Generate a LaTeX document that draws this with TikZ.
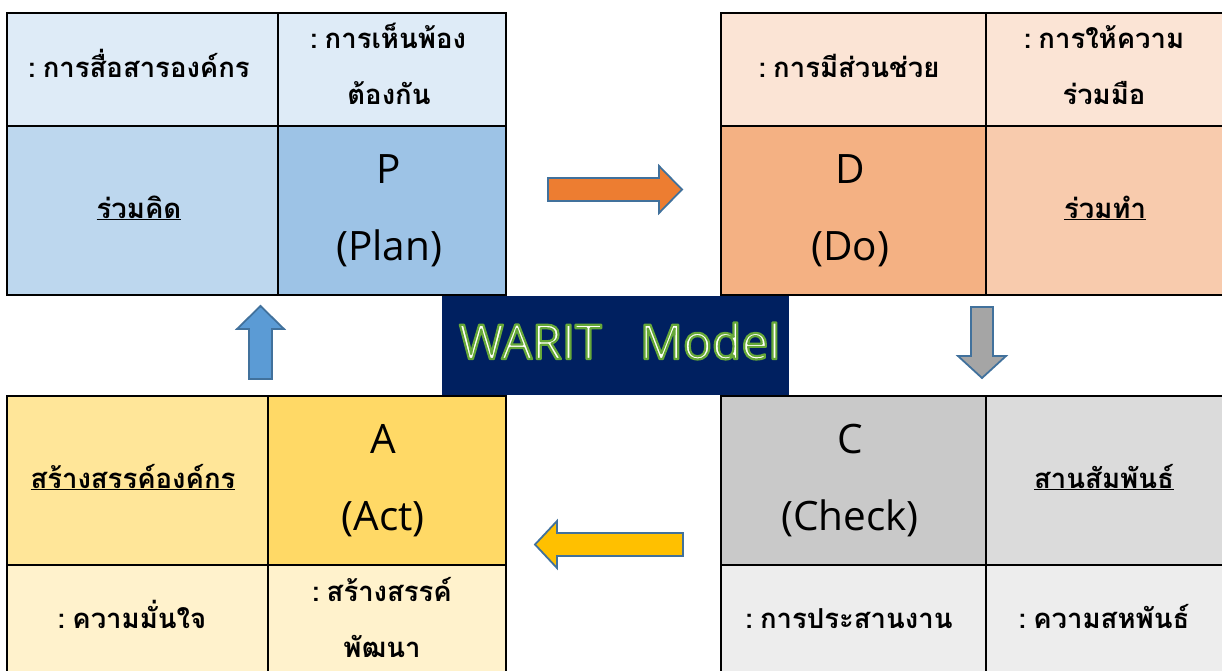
\documentclass[tikz,border=0pt]{standalone}
\usepackage{fontspec}
\newfontfamily\thai[Script=Thai]{Loma}
\newfontfamily\lat{Open Sans}
\definecolor{tlA}{RGB}{222,235,247}
\definecolor{tlB}{RGB}{189,215,238}
\definecolor{tlC}{RGB}{157,195,230}
\definecolor{trA}{RGB}{251,228,213}
\definecolor{trB}{RGB}{244,177,131}
\definecolor{trC}{RGB}{248,203,173}
\definecolor{blA}{RGB}{255,230,153}
\definecolor{blB}{RGB}{255,217,102}
\definecolor{blC}{RGB}{255,242,204}
\definecolor{brA}{RGB}{201,201,201}
\definecolor{brB}{RGB}{219,219,219}
\definecolor{brC}{RGB}{237,237,237}
\definecolor{navy}{RGB}{0,32,96}
\definecolor{arrline}{RGB}{65,113,156}
\definecolor{aorange}{RGB}{237,125,49}
\definecolor{ayellow}{RGB}{255,192,0}
\definecolor{ablue}{RGB}{91,155,213}
\definecolor{agray}{RGB}{165,165,165}
\definecolor{paletext}{RGB}{255,255,250}
\newcommand{\glowon}{\special{pdf:literal direct q 2 Tr 2.2 w 1 J 1 j 0.40 0.66 0.22 RG}}
\newcommand{\glowoff}{\special{pdf:literal direct Q}}
\newcommand{\colsp}{\hspace{7pt}}
\tikzset{
  tbl/.style={draw=black,line width=1.5pt},
  blockarrow/.style={draw=arrline,line width=1.8pt,line join=miter},
  thtxt/.style={font=\thai\bfseries\fontsize{27.5}{27.5}\selectfont,anchor=base,inner sep=0pt},
  latxt/.style={font=\lat\fontsize{40.5}{40.5}\selectfont,anchor=base,inner sep=0pt},
  titletxt/.style={font=\lat\fontsize{48}{48}\selectfont,anchor=base west,inner sep=0pt},
}
\begin{document}
\begin{tikzpicture}[x=1pt,y=-1pt]
\useasboundingbox (0,0) rectangle (1222,670);
\begin{scope}
\clip (0,0) rectangle (1222,670);
% top-left table (Plan)
\fill[tlA] (7,13) rectangle (506,126);
\fill[tlB] (7,126) rectangle (278,295);
\fill[tlC] (278,126) rectangle (506,295);
\draw[tbl] (7,13) rectangle (506,295) (7,126) -- (506,126) (278,13) -- (278,295);
% top-right table (Do)
\fill[trA] (721,13) rectangle (1224,126);
\fill[trB] (721,126) rectangle (986,295);
\fill[trC] (986,126) rectangle (1224,295);
\draw[tbl] (721,13) rectangle (1224,295) (721,126) -- (1224,126) (986,13) -- (986,295);
% bottom-left table (Act)
\fill[blA] (7,396) rectangle (268,565);
\fill[blB] (268,396) rectangle (506,565);
\fill[blC] (7,565) rectangle (506,700);
\draw[tbl] (7,396) rectangle (506,700) (7,565) -- (506,565) (268,396) -- (268,700);
% bottom-right table (Check)
\fill[brA] (721,396) rectangle (986,565);
\fill[brB] (986,396) rectangle (1224,565);
\fill[brC] (721,565) rectangle (1224,700);
\draw[tbl] (721,396) rectangle (1224,700) (721,565) -- (1224,565) (986,396) -- (986,700);
\end{scope}
% centre title box
\fill[navy] (442,296) rectangle (789,395);
\node[titletxt,text=paletext] (title) at (459,359) {\glowon WARIT\hspace{38pt}Model\glowoff};
% arrows
\draw[blockarrow,fill=aorange] (548,178) -- (659,178) -- (659,166) -- (682,189.5) -- (659,213) -- (659,201) -- (548,201) -- cycle;
\draw[blockarrow,fill=agray] (971,307) -- (993,307) -- (993,356) -- (1006,356) -- (982,378) -- (958,356) -- (971,356) -- cycle;
\draw[blockarrow,fill=ayellow] (683,533) -- (557,533) -- (557,521) -- (535,544.5) -- (557,568) -- (557,556) -- (683,556) -- cycle;
\draw[blockarrow,fill=ablue] (249,379) -- (249,329) -- (237,329) -- (260.5,306) -- (284,329) -- (272,329) -- (272,379) -- cycle;
% texts: Plan
\node[thtxt] (p1) at (139,77) {:\colsp การสื่อสารองค์กร};
\node[thtxt] (p2a) at (388,48) {:\colsp การเห็นพ้อง};
\node[thtxt] (p2b) at (389,104) {ต้องกัน};
\node[thtxt] (p3) at (139,218) {\underline{ร่วมคิด}};
\node[latxt] (pP) at (389,183) {P};
\node[latxt] (pPlan) at (389,260) {(Plan)};
% texts: Do
\node[thtxt] (d1) at (849,77) {:\colsp การมีส่วนช่วย};
\node[thtxt] (d2a) at (1104,48) {:\colsp การให้ความ};
\node[thtxt] (d2b) at (1104,104) {ร่วมมือ};
\node[thtxt] (d3) at (1105,218) {\underline{ร่วมทำ}};
\node[latxt] (dD) at (850,183) {D};
\node[latxt] (dDo) at (850,260) {(Do)};
% texts: Act
\node[thtxt] (a1) at (133,488) {\underline{สร้างสรรค์องค์กร}};
\node[latxt] (aA) at (383,453) {A};
\node[latxt] (aAct) at (383,530) {(Act)};
\node[thtxt] (a2) at (132,628) {:\colsp ความมั่นใจ};
\node[thtxt] (a3a) at (382,601) {:\colsp สร้างสรรค์};
\node[thtxt] (a3b) at (382,657) {พัฒนา};
% texts: Check
\node[latxt] (cC) at (850,453) {C};
\node[latxt] (cCheck) at (850,530) {(Check)};
\node[thtxt] (c1) at (1104,488) {\underline{สานสัมพันธ์}};
\node[thtxt] (c2) at (849,628) {:\colsp การประสานงาน};
\node[thtxt] (c3) at (1104,628) {:\colsp ความสหพันธ์};
\end{tikzpicture}
\end{document}
